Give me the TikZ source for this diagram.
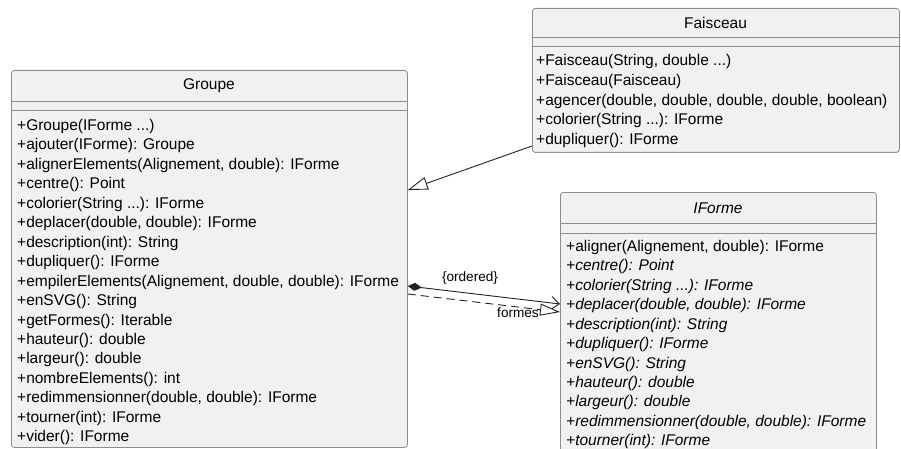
\documentclass[tikz,border=0pt]{standalone}
\usepackage{fontspec}
\setmainfont{Liberation Sans}
\usetikzlibrary{arrows.meta}
\definecolor{boxfill}{HTML}{F1F1F1}
\definecolor{boxline}{HTML}{8C8C8C}
\definecolor{ink}{HTML}{222222}
% varargs dots (a bare ... would clash with \foreach ranges)
\newcommand{\varg}{...}

\begin{document}
\begin{tikzpicture}[x=1pt, y=-1pt,
      cls/.style={draw=boxline, fill=boxfill, rounded corners=3pt, line width=0.8pt, inner sep=0pt},
      sep/.style={draw=boxline, line width=0.8pt},
      m/.style={anchor=west, inner sep=0pt, font=\fontsize{15.5}{18}\selectfont},
      lbl/.style={inner sep=0pt, font=\fontsize{13.6}{16}\selectfont},
      ln/.style={draw=ink, line width=0.9pt}]
  \useasboundingbox (0,0) rectangle (901,449);
  \fill[white] (0,0) rectangle (901,449);
  \clip (0,0) rectangle (901,449);

  % class boxes
  \node[cls, minimum width=396pt, minimum height=377pt, anchor=north west] (groupe) at (11,70) {};
  \node[cls, minimum width=367pt, minimum height=144pt, anchor=north west] (faisceau) at (532,8) {};
  \node[cls, minimum width=316pt, minimum height=290pt, anchor=north west] (iforme) at (560,192) {};

  % Groupe
  \node[m, anchor=center] (groupe-t) at (209,86) {Groupe};
  \draw[sep] (groupe.west |- 0,101) -- (groupe.east |- 0,101);
  \draw[sep] (groupe.west |- 0,110) -- (groupe.east |- 0,110);
  \foreach \t [count=\i] in {{+Groupe(IForme \varg)}, {+ajouter(IForme): Groupe},
      {+alignerElements(Alignement, double): IForme}, {+centre(): Point},
      {+colorier(String \varg): IForme}, {+deplacer(double, double): IForme},
      {+description(int): String}, {+dupliquer(): IForme},
      {+empilerElements(Alignement, double, double): IForme}, {+enSVG(): String},
      {+getFormes(): Iterable}, {+hauteur(): double}, {+largeur(): double},
      {+nombreElements(): int}, {+redimmensionner(double, double): IForme},
      {+tourner(int): IForme}, {+vider(): IForme}}
    \node[m] (g\i) at (17, 107.05+19.45*\i) {\t};

  % Faisceau
  \node[m, anchor=center] (faisceau-t) at (715.5,23) {Faisceau};
  \draw[sep] (faisceau.west |- 0,37) -- (faisceau.east |- 0,37);
  \draw[sep] (faisceau.west |- 0,46) -- (faisceau.east |- 0,46);
  \foreach \t [count=\i] in {{+Faisceau(String, double \varg)}, {+Faisceau(Faisceau)},
      {+agencer(double, double, double, double, boolean)},
      {+colorier(String \varg): IForme}, {+dupliquer(): IForme}}
    \node[m] (f\i) at (536, 41.6+19.8*\i) {\t};

  % IForme (interface, abstract members in italics)
  \node[m, anchor=center, font=\fontsize{15.5}{18}\selectfont\itshape] (iforme-t) at (718,208) {IForme};
  \draw[sep] (iforme.west |- 0,223) -- (iforme.east |- 0,223);
  \draw[sep] (iforme.west |- 0,233) -- (iforme.east |- 0,233);
  \node[m] (i1) at (566,247.3) {+aligner(Alignement, double): IForme};
  \foreach \t [count=\i from 2] in {{+centre(): Point}, {+colorier(String \varg): IForme},
      {+deplacer(double, double): IForme}, {+description(int): String},
      {+dupliquer(): IForme}, {+enSVG(): String}, {+hauteur(): double},
      {+largeur(): double}, {+redimmensionner(double, double): IForme},
      {+tourner(int): IForme}}
    \node[m, font=\fontsize{15.5}{18}\selectfont\itshape] (i\i) at (566, 227.85+19.45*\i) {\t};

  % relations
  \draw[ln, -{Triangle[open, fill=white, length=20pt, width=13pt]}]
    (faisceau.west |- 0,146) -- (groupe.east |- 0,190);
  \draw[ln, {Diamond[length=14pt, width=8pt]}-{Straight Barb[length=8pt, width=13pt]}]
    (groupe.east |- 0,286) -- (iforme.west |- 0,304);
  \draw[ln, dash pattern=on 8pt off 5pt, -{Triangle[open, fill=white, length=20pt, width=12pt]}]
    (groupe.east |- 0,294) -- (iforme.west |- 0,312);
  \node[lbl] (ordered) at (470,278) {\{ordered\}};
  \node[lbl] (formes) at (518,313) {formes};
\end{tikzpicture}
\end{document}
